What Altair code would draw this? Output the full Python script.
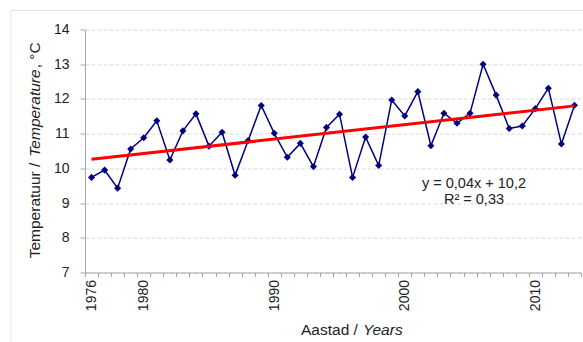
import altair as alt
import pandas as pd

years = list(range(1976, 2014))
temps = [9.74, 9.95, 9.43, 10.56, 10.88, 11.37, 10.24, 11.08, 11.57, 10.64,
         11.04, 9.80, 10.80, 11.81, 11.01, 10.32, 10.72, 10.05, 11.18, 11.56,
         9.74, 10.90, 10.08, 11.97, 11.51, 12.21, 10.65, 11.59, 11.30, 11.59,
         13.00, 12.11, 11.15, 11.22, 11.72, 12.31, 10.70, 11.82]
trend_years = [1976, 2013]
trend_vals = [10.26, 11.80]
label_years = [1976, 1980, 1990, 2000, 2010]
y_ticks = [7, 8, 9, 10, 11, 12, 13, 14]
eq_lines = ["y = 0,04x + 10,2", "R\u00b2 = 0,33"]

FONT = "Liberation Sans"
df = pd.DataFrame({"Year": years, "Temp": temps})
tdf = pd.DataFrame({"Year": trend_years, "Temp": trend_vals})

boundaries = [y - 0.5 for y in years] + [years[-1] + 0.5]
lbl_arr = "[" + ",".join(str(v) for v in label_years) + "]"

xscale = alt.Scale(domain=[1975.5, 2013.5], nice=False, zero=False)
yscale = alt.Scale(domain=[7, 14], nice=False, zero=False)

xaxis = alt.Axis(values=boundaries, grid=False, title=None,
                 labelExpr=f"indexof({lbl_arr}, datum.value + 0.5) >= 0 ? format(datum.value + 0.5, 'd') : ''",
                 labelOffset=6.5, labelAngle=270, labelOverlap=False, labelFlush=False,
                 labelFont=FONT, labelFontSize=14, labelColor="#222222", labelPadding=3,
                 tickSize=4, tickColor="#a6a6a6", domainColor="#a6a6a6")
yaxis = alt.Axis(values=y_ticks, grid=True, gridColor="#d9d9d9", gridDash=[4, 2],
                 title=None, format="d", labelFont=FONT, labelFontSize=14,
                 labelOverlap=False, labelFlush=False,
                 labelColor="#222222", labelPadding=11, tickSize=5,
                 tickColor="#a6a6a6", domainColor="#a6a6a6")

border = alt.Chart(pd.DataFrame({"a": [0]})).mark_rect(
    fill="transparent", stroke="#e3e3e3", strokeWidth=1, clip=False
).encode(x=alt.value(-74), x2=alt.value(560), y=alt.value(-19), y2=alt.value(360))

base = alt.Chart(df).encode(
    x=alt.X("Year:Q", scale=xscale, axis=xaxis),
    y=alt.Y("Temp:Q", scale=yscale, axis=yaxis),
)
line = base.mark_line(color="#000080", strokeWidth=1.5)
pts = base.mark_point(shape="diamond", filled=True, color="#000080", size=50, opacity=1)

trend = alt.Chart(tdf).mark_line(color="#ff0000", strokeWidth=3).encode(
    x=alt.X("Year:Q", scale=xscale, axis=xaxis),
    y=alt.Y("Temp:Q", scale=yscale, axis=yaxis),
)

TS = 15.5
txt = lambda s, x, y, **kw: alt.Chart(pd.DataFrame({"t": [s]})).mark_text(
    font=FONT, fontSize=TS, color="#222222", **kw
).encode(text="t:N", x=alt.value(x), y=alt.value(y))

ytitle1 = txt("Temperatuur / ", -45, 228.8, angle=270, align="left", baseline="alphabetic")
ytitle2 = txt("Temperature", -45, 127.2, angle=270, align="left", baseline="alphabetic", fontStyle="italic")
ytitle3 = txt(", \u00b0C", -45, 38.8, angle=270, align="left", baseline="alphabetic")
xtitle1 = txt("Aastad / ", 216, 305.5, align="left", baseline="alphabetic")
xtitle2 = txt("Years", 278, 305.5, align="left", baseline="alphabetic", fontStyle="italic")

eq1 = alt.Chart(pd.DataFrame({"t": [eq_lines[0]]})).mark_text(
    font=FONT, fontSize=14.5, color="#222222", align="center", baseline="alphabetic"
).encode(text="t:N", x=alt.value(389), y=alt.value(158.8))
eq2 = alt.Chart(pd.DataFrame({"t": [eq_lines[1]]})).mark_text(
    font=FONT, fontSize=14.5, color="#222222", align="center", baseline="alphabetic"
).encode(text="t:N", x=alt.value(389), y=alt.value(174.8))

chart = alt.layer(
    border, line, pts, trend, eq1, eq2, ytitle1, ytitle2, ytitle3, xtitle1, xtitle2
).properties(
    width=496, height=243,
    autosize=alt.AutoSizeParams(type="none"),
    padding={"left": 85, "top": 29.5, "right": 2, "bottom": 69.5},
    background="white",
).configure_view(strokeWidth=0).configure_axis(labelOverlap=False)

chart.save("out.html", embed_options={"renderer": "svg", "actions": False})
